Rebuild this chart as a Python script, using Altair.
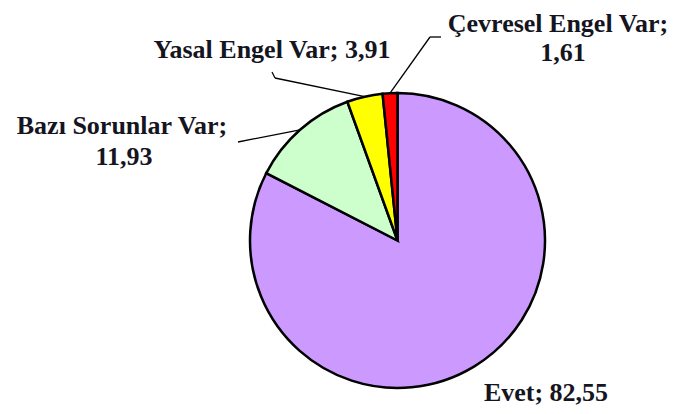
import math
import altair as alt
import pandas as pd

# ---- data ----
categories = ["Evet", "Bazı Sorunlar Var", "Yasal Engel Var", "Çevresel Engel Var"]
values = [82.55, 11.93, 3.91, 1.61]
value_labels = ["82,55", "11,93", "3,91", "1,61"]
colors = ["#CC99FF", "#CCFFCC", "#FFFF00", "#FF0000"]

# ---- layout (pixels inside the chart area) ----
W, H = 664, 398
CX, CY, R = 389.5, 232.5, 147.5
label_texts = [
    "Evet; 82,55",
    "Bazı Sorunlar Var;", "11,93",
    "Yasal Engel Var; 3,91",
    "Çevresel Engel Var;", "1,61",
]
label_x = [538, 114, 116, 264, 550, 555]
label_y = [393, 126, 157, 50, 24, 53]
# leader elbow / end points (None = no leader)
elbow = [None, (230, 134), (267, 70), (422, 29)]
end = [None, (230, 134), (264, 64), (433, 29)]

pie_df = pd.DataFrame({
    "category": categories,
    "value": values,
    "idx": list(range(len(categories))),
})

pie = alt.Chart(pie_df).mark_arc(
    radius=R, stroke="black", strokeWidth=2.5
).encode(
    theta=alt.Theta("value:Q", stack=True),
    order=alt.Order("idx:Q"),
    color=alt.Color("category:N",
                    scale=alt.Scale(domain=categories, range=colors),
                    legend=None),
    x=alt.value(CX),
    y=alt.value(CY),
)

# leader lines: start at slice mid-angle on the pie edge
total = sum(values)
rows = []
cum = 0.0
for i, v in enumerate(values):
    mid = (cum + v / 2) / total * 2 * math.pi
    cum += v
    if elbow[i] is None:
        continue
    px = CX + R * math.sin(mid)
    py = CY - R * math.cos(mid)
    rows.append({"x": px, "y": py, "x2": elbow[i][0], "y2": elbow[i][1]})
    rows.append({"x": elbow[i][0], "y": elbow[i][1], "x2": end[i][0], "y2": end[i][1]})
lead_df = pd.DataFrame(rows)

leaders = alt.Chart(lead_df).mark_rule(color="black", strokeWidth=1.3).encode(
    x=alt.X("x:Q", scale=None, axis=None),
    y=alt.Y("y:Q", scale=None, axis=None),
    x2="x2:Q",
    y2="y2:Q",
)

lab_df = pd.DataFrame({
    "t": label_texts,
    "lx": label_x,
    "ly": label_y,
})
labels = alt.Chart(lab_df).mark_text(
    font="Liberation Serif", fontWeight="bold", fontSize=26,
    color="#15151f", align="center", baseline="alphabetic",
).encode(
    x=alt.X("lx:Q", scale=None, axis=None),
    y=alt.Y("ly:Q", scale=None, axis=None),
    text=alt.Text("t:N"),
)

chart = alt.layer(pie, leaders, labels).properties(
    width=W, height=H, autosize="none", padding=0,
).configure_view(stroke=None)

chart.save("out.html", embed_options={"renderer": "svg", "actions": False})
